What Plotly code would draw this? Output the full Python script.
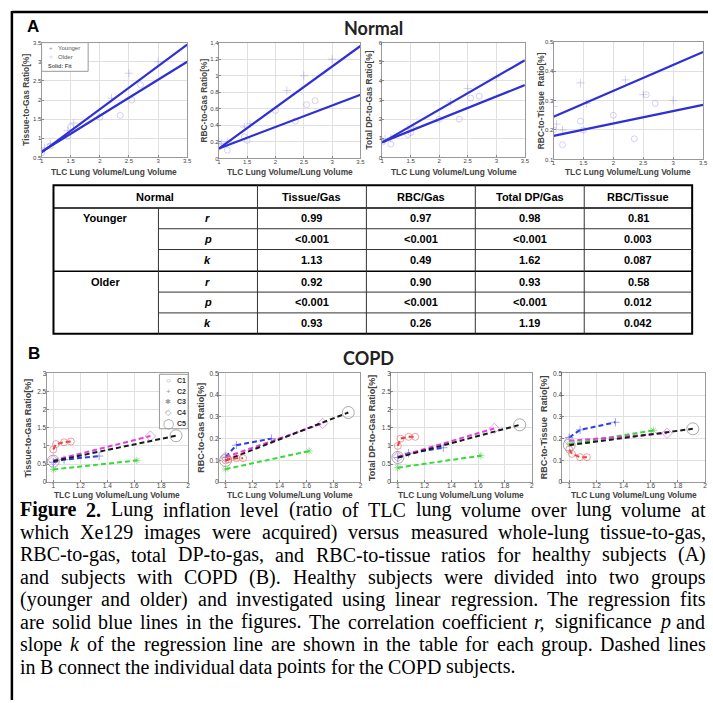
import plotly.graph_objects as go

FW, FH = 713, 703
def px(x): return x / FW
def py(y): return 1 - y / FH

# ---------------- Data: A (Normal) ----------------
a_tickvals = [1, 1.5, 2, 2.5, 3, 3.5]
a_ticktext = ["1", "1.5", "2", "2.5", "3", "3.5"]
fit_x = [1.0, 3.5]

tg_young_fit = [0.63, 3.45]
tg_old_fit = [0.65, 3.0]
rg_young_fit = [0.12, 1.36]
rg_old_fit = [0.12, 0.77]
dp_young_fit = [0.78, 5.08]
dp_old_fit = [0.80, 3.78]
rt_young_fit = [0.245, 0.465]
rt_old_fit = [0.18, 0.285]

young_x = [1.0, 1.05, 1.15, 1.45, 1.55, 2.2, 2.5, 3.0]
old_x = [1.0, 1.15, 1.45, 1.5, 2.0, 2.35, 2.55, 2.7]
tg_young = [0.72, 0.75, 0.85, 1.2, 1.4, 2.05, 2.7, 3.0]
tg_old = [0.62, 0.8, 1.05, 1.3, 1.55, 1.6, 2.0, 2.4]
rg_young = [0.2, 0.18, 0.2, 0.38, 0.42, 0.82, 1.0, 1.2]
rg_old = [0.14, 0.1, 0.26, 0.22, 0.58, 0.45, 0.65, 0.7]
dp_young = [0.9, 0.95, 1.0, 1.5, 1.6, 2.9, 3.6, 4.2]
dp_old = [0.8, 0.7, 1.2, 1.3, 2.0, 2.0, 3.1, 3.2]
rt_young = [0.28, 0.22, 0.2, 0.36, 0.29, 0.37, 0.32, 0.3]
rt_old = [0.2, 0.15, 0.23, 0.2, 0.25, 0.17, 0.32, 0.29]

# ---------------- Data: B (COPD) ----------------
b_tickvals = [1, 1.2, 1.4, 1.6, 1.8, 2]
b_ticktext = ["1", "1.2", "1.4", "1.6", "1.8", "2"]
copd_names = ["C1", "C2", "C3", "C4", "C5"]
c1_x = [1.0, 1.02, 1.08, 1.13]
c2_x = [1.0, 1.08, 1.34]
c3_x = [1.0, 1.62]
c4_x = [1.0, 1.72]
c5_x = [1.0, 1.91]
tg_c = [[0.9, 1.05, 1.1, 1.12], [0.55, 0.62, 0.72], [0.35, 0.6], [0.6, 1.27], [0.58, 1.28]]
rg_c = [[0.1, 0.105, 0.11, 0.11], [0.115, 0.17, 0.2], [0.06, 0.143], [0.115, 0.27], [0.10, 0.32]]
dp_c = [[1.0, 1.2, 1.25, 1.25], [0.68, 0.8, 0.95], [0.4, 0.73], [0.7, 1.48], [0.68, 1.58]]
rt_c = [[0.15, 0.13, 0.115, 0.115], [0.205, 0.24, 0.275], [0.175, 0.238], [0.19, 0.225], [0.17, 0.245]]

# ---------------- Data: table ----------------
table_cols = ["Tissue/Gas", "RBC/Gas", "Total DP/Gas", "RBC/Tissue"]
young_r = ["0.99", "0.97", "0.98", "0.81"]
young_p = ["<0.001", "<0.001", "<0.001", "0.003"]
young_k = ["1.13", "0.49", "1.62", "0.087"]
old_r = ["0.92", "0.90", "0.93", "0.58"]
old_p = ["<0.001", "<0.001", "<0.001", "0.012"]
old_k = ["0.93", "0.26", "1.19", "0.042"]

caption_lines = [
    "*Figure *2. Lung inflation level (ratio of TLC lung volume over lung volume at",
    "which Xe129 images were acquired) versus measured whole-lung tissue-to-gas,",
    "RBC-to-gas, total DP-to-gas, and RBC-to-tissue ratios for healthy subjects (A)",
    "and subjects with COPD (B). Healthy subjects were divided into two groups",
    "(younger and older) and investigated using linear regression. The regression fits",
    "are solid blue lines in the figures. The correlation coefficient _r, significance _p and",
    "slope _k of the regression line are shown in the table for each group. Dashed lines",
    "in B connect the individual data points for the COPD subjects.",
]

# ---------------- Layout geometry (pixels) ----------------
panels = [
    (40, 187, 39, 155), (219, 362, 39, 156), (384, 528, 39, 155), (557, 708, 38, 157),
    (45, 188, 373, 483), (219, 362, 373, 483), (393, 535, 373, 483), (566, 710, 373, 483),
]
yranges = [[0.5, 3.5], [0, 1.4], [0, 6], [0.1, 0.5], [0, 3], [0, 0.5], [0, 3], [0, 0.5]]
ytickv = [
    [0.5, 1, 1.5, 2, 2.5, 3, 3.5], [0, 0.2, 0.4, 0.6, 0.8, 1, 1.2, 1.4], [0, 1, 2, 3, 4, 5, 6],
    [0.1, 0.2, 0.3, 0.4, 0.5], [0, 0.5, 1, 1.5, 2, 2.5, 3], [0, 0.1, 0.2, 0.3, 0.4, 0.5],
    [0, 0.5, 1, 1.5, 2, 2.5, 3], [0, 0.1, 0.2, 0.3, 0.4, 0.5],
]
ytitles = ["Tissue-to-Gas Ratio[%]", "RBC-to-Gas Ratio[%]", "Total DP-to-Gas Ratio[%]",
           "RBC-to-Tissue  Ratio[%]"] * 2

fig = go.Figure()
FIT_COLOR = "#2f2fd6"
FAINT = "rgba(130,130,215,0.35)"

a_sets = [
    (tg_young, tg_old, tg_young_fit, tg_old_fit),
    (rg_young, rg_old, rg_young_fit, rg_old_fit),
    (dp_young, dp_old, dp_young_fit, dp_old_fit),
    (rt_young, rt_old, rt_young_fit, rt_old_fit),
]
for i, (yy, yo, fy, fo) in enumerate(a_sets):
    ax = "" if i == 0 else str(i + 1)
    fig.add_trace(go.Scatter(x=young_x, y=yy, mode="markers", xaxis="x" + ax, yaxis="y" + ax,
                             marker=dict(symbol="cross-thin-open", size=6, color=FAINT,
                                         line=dict(color=FAINT, width=1)),
                             showlegend=False, hoverinfo="skip"))
    fig.add_trace(go.Scatter(x=old_x, y=yo, mode="markers", xaxis="x" + ax, yaxis="y" + ax,
                             marker=dict(symbol="circle-open", size=6, color=FAINT,
                                         line=dict(color=FAINT, width=1)),
                             showlegend=False, hoverinfo="skip"))
    for f in (fy, fo):
        fig.add_trace(go.Scatter(x=fit_x, y=f, mode="lines", xaxis="x" + ax, yaxis="y" + ax,
                                 line=dict(color=FIT_COLOR, width=2.2), showlegend=False, hoverinfo="skip"))

c_xs = [c1_x, c2_x, c3_x, c4_x, c5_x]
c_colors = ["#ec3a3a", "#2a3ee6", "#36dc36", "#e23ee2", "#1a1a1a"]
c_mcolors = ["rgba(230,100,100,0.6)", "rgba(70,90,230,0.55)", "rgba(70,200,70,0.55)",
             "rgba(200,90,200,0.55)", "rgba(150,150,150,0.8)"]
c_symbols = ["circle-open", "cross-thin-open", "asterisk-open", "diamond-open", "circle-open"]
c_sizes = [7, 6, 6, 8, 12]
draw_order = [2, 1, 3, 4, 0]
for j, data in enumerate([tg_c, rg_c, dp_c, rt_c]):
    ax = str(j + 5)
    for k in draw_order:
        fig.add_trace(go.Scatter(
            x=c_xs[k], y=data[k], mode="lines+markers", xaxis="x" + ax, yaxis="y" + ax,
            line=dict(color=c_colors[k], width=2, dash="5px,3px"),
            marker=dict(symbol=c_symbols[k], size=c_sizes[k], color=c_mcolors[k],
                        line=dict(color=c_mcolors[k], width=1)),
            showlegend=False, hoverinfo="skip", name=copd_names[k]))

layout = dict(
    width=FW, height=FH, margin=dict(l=0, r=0, t=0, b=0, pad=0),
    paper_bgcolor="white", plot_bgcolor="white", showlegend=False,
)
for i, (l, r, t, b) in enumerate(panels):
    n = "" if i == 0 else str(i + 1)
    isA = i < 4
    common = dict(
        showgrid=True, gridcolor="#e0e0e0", gridwidth=1, zeroline=False,
        showline=True, mirror=True, linecolor="#9a9a9a", linewidth=1,
        ticks="inside", ticklen=2, tickcolor="#888",
        tickfont=dict(family="Liberation Sans, Arial", size=6 if isA else 6.5, color="#444"),
        fixedrange=True,
    )
    layout["xaxis" + n] = dict(
        domain=[px(l), px(r)], anchor="y" + n,
        range=[1, 3.5] if isA else [0.95, 2],
        tickvals=a_tickvals if isA else b_tickvals,
        ticktext=a_ticktext if isA else b_ticktext, ticklabelstandoff=-3, **common)
    layout["yaxis" + n] = dict(
        domain=[py(b), py(t)], anchor="x" + n,
        range=yranges[i], tickvals=ytickv[i], ticklabelstandoff=-2,
        ticktext=[("%g" % v) for v in ytickv[i]], **common)

ann = []
shapes = []
def text(x, y, s, size, family="Liberation Sans, Arial", color="black", xanchor="center",
         yanchor="middle", angle=0):
    ann.append(dict(x=px(x), y=py(y), xref="paper", yref="paper", text=s, showarrow=False,
                    xanchor=xanchor, yanchor=yanchor, textangle=angle, borderpad=0,
                    font=dict(family=family, size=size, color=color)))
def line(x0, y0, x1, y1, w=1, color="black"):
    shapes.append(dict(type="line", xref="paper", yref="paper", x0=px(x0), y0=py(y0),
                       x1=px(x1), y1=py(y1), line=dict(color=color, width=w)))

# frame
line(10, 8, 713, 8, 2.5)
line(10, 7, 10, 703, 2.5)

# headers
text(31, 23, "<b>A</b>", 17)
text(375, 24, "<b>Normal</b>", 18, family="Lato, Open Sans, sans-serif", color="#222")
text(32, 353, "<b>B</b>", 17)
text(370, 358, "<b>COPD</b>", 18, family="Lato, Open Sans, sans-serif", color="#222")

# axis titles
ytitle_x = [24, 204, 371, 544, 26, 201, 373, 547]
for i, (l, r, t, b) in enumerate(panels):
    isA = i < 4
    text((l + r) / 2, 170 if isA else 496, "<b>TLC Lung Volume/Lung Volume</b>", 8.4 if isA else 8.4,
         color="#444")
    text(ytitle_x[i], (t + b) / 2, "<b>%s</b>" % ytitles[i], 8.4 if isA else 9, color="#444", angle=-90)

# legend A1
shapes.append(dict(type="rect", xref="paper", yref="paper", x0=px(40), x1=px(87), y0=py(68), y1=py(39),
                   line=dict(color="#999", width=1), fillcolor="white"))
text(49, 44, "+", 6, color="#8888cc")
text(56, 44, "Younger", 6, color="#555", xanchor="left")
text(49, 54, "○", 6, color="#8888cc")
text(56, 54, "Older", 6, color="#555", xanchor="left")
text(45, 63, "<b>Solid: Fit</b>", 5.5, color="#555", xanchor="left")

# legend B1
shapes.append(dict(type="rect", xref="paper", yref="paper", x0=px(159), x1=px(188), y0=py(429), y1=py(374),
                   line=dict(color="#999", width=1), fillcolor="white"))
leg_syms = ["○", "+", "✱", "◇", "◯"]
leg_sizes = [8, 8, 7, 8, 10]
for k in range(5):
    yk = 380 + k * 11
    text(168, yk, leg_syms[k], leg_sizes[k], color="#9a9a9a")
    text(176, yk, "<b>%s</b>" % copd_names[k], 7, color="#333", xanchor="left")

# ---------------- Table ----------------
TL, TR, TT, TB = 52, 697, 183, 333
row_edges = [206, 227, 248, 270, 291, 312, 333]
col_edges = [258, 368, 478, 588, 697]
col_centers = [(a + b) / 2 for a, b in zip(col_edges[:-1], col_edges[1:])]
shapes.append(dict(type="rect", xref="paper", yref="paper", x0=px(TL), x1=px(TR), y0=py(TB), y1=py(TT),
                   line=dict(color="black", width=2)))
line(TL, 206, TR, 206, 1.5)
line(TL, 270, TR, 270, 1.5)
for yl in (227, 248, 291, 312):
    line(158, yl, TR, yl, 1, "#333")
line(158, 206, 158, TB, 1, "#333")
for xl in col_edges[:-1]:
    line(xl, TT, xl, TB, 1, "#333")

TF = "Liberation Sans Narrow, Arial Narrow, Liberation Sans, Arial"
text(155, 194.5, "<b>Normal</b>", 11, family=TF)
for c, name in zip(col_centers, table_cols):
    text(c, 194.5, "<b>%s</b>" % name, 11, family=TF)
text(105, 216.5, "<b>Younger</b>", 11, family=TF)
text(105, 280.5, "<b>Older</b>", 11, family=TF)
row_centers = [(a + b) / 2 for a, b in zip(row_edges[:-1], row_edges[1:])]
rows = [("r", young_r), ("p", young_p), ("k", young_k), ("r", old_r), ("p", old_p), ("k", old_k)]
for yc, (lab, vals) in zip(row_centers, rows):
    text(208, yc, "<b><i>%s</i></b>" % lab, 11, family=TF)
    for c, v in zip(col_centers, vals):
        text(c, yc, "<b>%s</b>" % v.replace("<", "&lt;"), 11, family=TF)

# ---------------- Caption (justified) ----------------
REG = {' ': 250, '!': 333, '(': 333, ')': 333, ',': 250, '-': 333, '.': 250, '/': 278, ':': 278, ';': 278}
for d in "0123456789":
    REG[d] = 500
REG.update(dict(A=722, B=667, C=667, D=722, E=611, F=556, G=722, H=722, I=333, J=389, K=722, L=611,
                M=889, N=722, O=722, P=556, Q=722, R=667, S=556, T=611, U=722, V=722, W=944, X=722,
                Y=722, Z=611, a=444, b=500, c=444, d=500, e=444, f=333, g=500, h=500, i=278, j=278,
                k=500, l=278, m=778, n=500, o=500, p=500, q=500, r=333, s=389, t=278, u=500, v=500,
                w=722, x=500, y=500, z=444))
BOLD = dict(REG)
BOLD.update(dict(F=611, g=500, u=556, r=444, e=444))
ITAL = dict(REG)
ITAL.update(dict(r=389, k=444))

CF = 20
CAP_FONT = "Liberation Serif, Times New Roman, serif"
x_left, x_right = 17, 709
y0, pitch = 511, 22.6

def word_w(w, style):
    tb = BOLD if style == "b" else (ITAL if style == "i" else REG)
    return sum(tb.get(ch, 500) for ch in w) * CF / 1000.0

for li, ln in enumerate(caption_lines):
    words = []
    for w in ln.split(" "):
        if w.startswith("*"):
            words.append((w[1:], "b"))
        elif w.startswith("_"):
            words.append((w[1:], "i"))
        else:
            words.append((w, ""))
    if li == 0:
        words[1] = ("2.", "b")
    words = [(w, s) for w, s in words if w]
    widths = [word_w(w, s) for w, s in words]
    last = li == len(caption_lines) - 1
    if last:
        gap = 250 * CF / 1000.0
    else:
        gap = (x_right - x_left - sum(widths)) / (len(words) - 1)
    xc = x_left
    yc = y0 + li * pitch
    for (w, s), wd in zip(words, widths):
        t = w
        if s == "b":
            t = "<b>%s</b>" % w
        elif s == "i":
            t = "<i>%s</i>" % w
        text(xc, yc, t, CF, family=CAP_FONT, xanchor="left")
        xc += wd + gap

layout["annotations"] = ann
layout["shapes"] = shapes
fig.update_layout(**layout)
fig.write_html("out.html", config={"displayModeBar": False},
               post_script="document.body.style.margin='0px';document.body.style.overflow='hidden';")
